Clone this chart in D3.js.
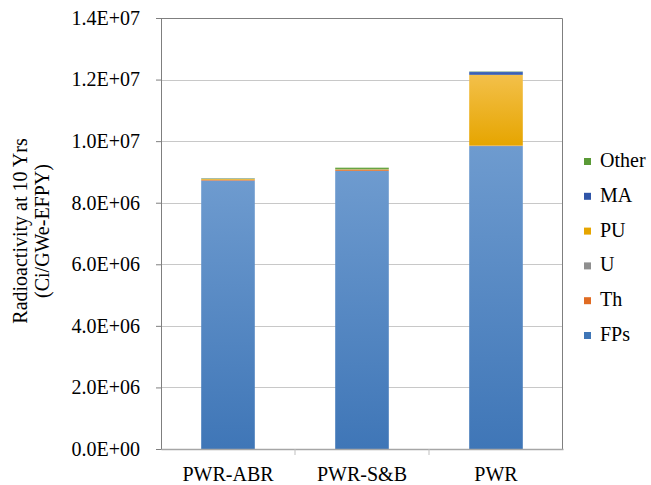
<!DOCTYPE html>
<html>
<head>
<meta charset="utf-8">
<script src="https://cdn.jsdelivr.net/npm/d3@7"></script>
<style>
  body { margin: 0; background: #fff; }
  text { font-family: "Liberation Serif", "Times New Roman", serif; }
</style>
</head>
<body>
<script>
//////////////// Datas ////////////////////
var categories = ["PWR-ABR", "PWR-S&B", "PWR"];
var seriesNames = ["FPs", "Th", "U", "PU", "MA", "Other"];
// values in Ci/GWe-EFPY, one array per series (same order as categories)
var fps   = [8.72e6, 9.03e6, 9.84e6];
var th    = [0.02e6, 0.03e6, 0.01e6];
var u     = [0.005e6, 0.005e6, 0.005e6];
var pu    = [0.03e6, 0.02e6, 2.30e6];
var ma    = [0.01e6, 0.005e6, 0.10e6];
var other = [0.01e6, 0.05e6, 0.01e6];
var yTicks = [0, 2e6, 4e6, 6e6, 8e6, 1e7, 1.2e7, 1.4e7];

var seriesValues = [fps, th, u, pu, ma, other];
var colors = {
  FPs:   ["#6e9bcf", "#3f76b7"],
  Th:    ["#ee8a4a", "#e06b22"],
  U:     ["#b0b0b0", "#8f8f8f"],
  PU:    ["#f3c04a", "#e6a500"],
  MA:    ["#4a70c2", "#2f55a8"],
  Other: ["#79b356", "#5a9a36"]
};

var rows = categories.map(function(c, i) {
  var r = {cat: c};
  seriesNames.forEach(function(s, j) { r[s] = seriesValues[j][i]; });
  return r;
});

var W = 651, H = 485;
var margin = {left: 161, top: 18, right: 88, bottom: 36};
var width = W - margin.left - margin.right;
var height = H - margin.top - margin.bottom;
var fontSize = 20;

var svg = d3.select("body").append("svg")
  .attr("width", W).attr("height", H);

var defs = svg.append("defs");
seriesNames.forEach(function(s) {
  var g = defs.append("linearGradient")
    .attr("id", "grad-" + s)
    .attr("x1", 0).attr("y1", 0).attr("x2", 0).attr("y2", 1);
  g.append("stop").attr("offset", "0%").attr("stop-color", colors[s][0]);
  g.append("stop").attr("offset", "100%").attr("stop-color", colors[s][1]);
});

var plot = svg.append("g")
  .attr("transform", "translate(" + margin.left + "," + margin.top + ")");

////////////////// Scaling ////////////
var x = d3.scaleBand().domain(categories).range([0, width]).paddingInner(0.6).paddingOuter(0.3);
var xCat = d3.scaleBand().domain(categories).range([0, width]);
var y = d3.scaleLinear().domain([0, 1.4e7]).range([height, 0]);

// gridlines
plot.selectAll("line.grid")
  .data(yTicks.slice(1, -1))
  .enter().append("line")
  .attr("class", "grid")
  .attr("x1", 0).attr("x2", width)
  .attr("y1", function(d) { return Math.round(y(d)) + 0.5; })
  .attr("y2", function(d) { return Math.round(y(d)) + 0.5; })
  .attr("stroke", "#c8c8c8").attr("stroke-width", 1);

//////////////// Bars ////////////////
var stack = d3.stack().keys(seriesNames);
var layers = stack(rows);

plot.selectAll("g.layer")
  .data(layers)
  .enter().append("g")
  .attr("class", "layer")
  .attr("fill", function(d) { return "url(#grad-" + d.key + ")"; })
  .selectAll("rect")
  .data(function(d) { return d; })
  .enter().append("rect")
  .attr("x", function(d) { return x(d.data.cat); })
  .attr("width", x.bandwidth())
  .attr("y", function(d) { return y(d[1]); })
  .attr("height", function(d) { return Math.max(0, y(d[0]) - y(d[1])); });

// frame top/right
plot.append("path")
  .attr("d", "M0,0.5H" + (width - 0.5) + "V" + height)
  .attr("fill", "none").attr("stroke", "#7f7f7f").attr("stroke-width", 1);

//////////// Axes /////////////
var yAxis = d3.axisLeft(y).tickValues(yTicks).tickSize(5).tickPadding(16)
  .tickFormat(function(d) {
    var e = d === 0 ? 0 : Math.floor(Math.log10(d));
    var m = d / Math.pow(10, e);
    return m.toFixed(1) + "E+" + (e < 10 ? "0" : "") + e;
  });
var gy = plot.append("g").call(yAxis);
gy.select(".domain").attr("stroke", "#7f7f7f");
gy.selectAll(".tick line").attr("stroke", "#7f7f7f");
gy.selectAll("text").attr("font-size", fontSize).attr("fill", "#000")
  .attr("font-family", "Liberation Serif, serif");

var xAxis = d3.axisBottom(xCat).tickSize(0).tickPadding(18);
var gx = plot.append("g").attr("transform", "translate(0," + height + ")").call(xAxis);
gx.select(".domain").attr("stroke", "#a6a6a6").attr("stroke-width", 1.5);
gx.selectAll("text").attr("font-size", fontSize).attr("fill", "#000")
  .attr("font-family", "Liberation Serif, serif");
// category separator ticks
gx.selectAll("line.sep")
  .data(categories.slice(1))
  .enter().append("line")
  .attr("class", "sep")
  .attr("x1", function(d) { return xCat(d); })
  .attr("x2", function(d) { return xCat(d); })
  .attr("y1", 0).attr("y2", 6)
  .attr("stroke", "#bfbfbf");

// y title
var yTitle = svg.append("text")
  .attr("transform", "translate(27,231) rotate(-90)")
  .attr("text-anchor", "middle")
  .attr("font-size", fontSize);
yTitle.append("tspan").attr("x", 0).attr("dy", 0).text("Radioactivity  at 10 Yrs");
yTitle.append("tspan").attr("x", 0).attr("dy", 22).text("(Ci/GWe-EFPY)");

//////////////// Legend ////////////////
var legendNames = seriesNames.slice().reverse();
var legend = svg.append("g").attr("transform", "translate(584,161)");
var li = legend.selectAll("g.item")
  .data(legendNames)
  .enter().append("g")
  .attr("class", "item")
  .attr("transform", function(d, i) { return "translate(0," + (i * 34.8) + ")"; });
li.append("rect")
  .attr("x", 0).attr("y", -3).attr("width", 7).attr("height", 7)
  .attr("fill", function(d) { return colors[d][1]; });
li.append("text")
  .attr("x", 16).attr("y", 6)
  .attr("font-size", fontSize)
  .text(function(d) { return d; });
</script>
</body>
</html>
